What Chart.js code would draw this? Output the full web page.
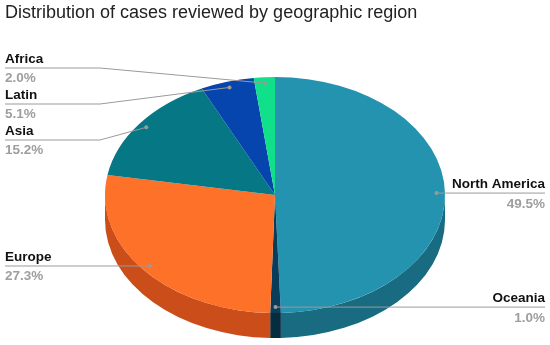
<!DOCTYPE html>
<html>
<head>
<meta charset="utf-8">
<script src="https://cdn.jsdelivr.net/npm/chart.js@4.4.1/dist/chart.umd.min.js"></script>
<style>
    html, body { margin: 0; padding: 0; background: #fff; }
    #wrap { width: 550px; height: 345px; }
</style>
</head>
<body>
<div id="wrap"><canvas id="pieChart" width="550" height="345"></canvas></div>
<script>
// Data
const regions = ['North America', 'Oceania', 'Europe', 'Asia', 'Latin', 'Africa'];
const shares = [49.5, 1.0, 27.3, 15.2, 5.1, 2.0];
const topColors = ['#2493b0', '#0a3d5a', '#fd7128', '#067784', '#0645ae', '#10e08a'];
const sideColors = ['#186b80', '#062c40', '#cb4e1a', '#045560', '#04317c', '#0ba062'];

// Layout of the 3D ellipse (screen px)
const pieCx = 275, pieCy = 195, pieRx = 170, pieRy = 118, pieDepth = 25;
// y of each label's leader line (null = follow the dot)
const labelLineY = [null, null, null, 140, 104, 68];

function pieTransform(ctx, arc) {
    const r = arc.outerRadius;
    ctx.translate(pieCx, pieCy);
    ctx.scale(pieRx / r, pieRy / r);
    ctx.translate(-arc.x, -arc.y);
}

// draws the side wall under the chart's own arcs, and squashes the top face
const tiltPlugin = {
    id: 'tilt',
    beforeDatasetsDraw(chart) {
        const ctx = chart.ctx;
        const arcs = chart.getDatasetMeta(0).data;
        if (!arcs.length) return;
        const r = arcs[0].outerRadius;
        const d = pieDepth * r / pieRy;
        ctx.save();
        pieTransform(ctx, arcs[0]);
        arcs.forEach((arc, i) => {
            // front half of the rim is angles 0..PI (canvas), repeated every 2PI
            for (let k = -1; k <= 1; k++) {
                const lo = k * Math.PI * 2, hi = lo + Math.PI;
                const s = Math.max(arc.startAngle, lo), e = Math.min(arc.endAngle, hi);
                if (e <= s) continue;
                ctx.beginPath();
                ctx.arc(arc.x, arc.y, r, s, e);
                ctx.arc(arc.x, arc.y + d, r, e, s, true);
                ctx.closePath();
                ctx.fillStyle = sideColors[i];
                ctx.fill();
            }
        });
        ctx.restore();
        ctx.save();
        pieTransform(ctx, arcs[0]);
    },
    afterDatasetsDraw(chart) {
        chart.ctx.restore();
    }
};

// leader lines + two-line labels
const labelPlugin = {
    id: 'pieLabels',
    afterDraw(chart) {
        const ctx = chart.ctx;
        const arcs = chart.getDatasetMeta(0).data;
        if (!arcs.length) return;
        const total = shares.reduce((a, b) => a + b, 0);
        ctx.save();
        arcs.forEach((arc, i) => {
            const mid = (arc.startAngle + arc.endAngle) / 2;
            const px = pieCx + Math.cos(mid) * pieRx * 0.95;
            const py = pieCy + Math.sin(mid) * pieRy * 0.95;
            const right = Math.cos(mid) > -0.01;
            const ly = labelLineY[i] === null ? py : labelLineY[i];
            const edge = right ? 545 : 5;
            const elbow = right ? 450 : 100;

            ctx.strokeStyle = '#9a9a9a';
            ctx.lineWidth = 1;
            ctx.beginPath();
            ctx.moveTo(px, py);
            if (Math.abs(ly - py) > 0.5) ctx.lineTo(elbow, ly);
            ctx.lineTo(edge, ly);
            ctx.stroke();

            ctx.fillStyle = '#9a9a9a';
            ctx.beginPath();
            ctx.arc(px, py, 2, 0, Math.PI * 2);
            ctx.fill();

            ctx.textAlign = right ? 'right' : 'left';
            ctx.font = 'bold 13.5px "Liberation Sans", Arial, sans-serif';
            ctx.fillStyle = '#111';
            ctx.textBaseline = 'alphabetic';
            ctx.fillText(regions[i], edge, ly - 5);
            ctx.fillStyle = '#9e9e9e';
            ctx.textBaseline = 'top';
            ctx.fillText((shares[i] / total * 100).toFixed(1) + '%', edge, ly + 4);
        });
        ctx.restore();
    }
};

new Chart(document.getElementById('pieChart'), {
    type: 'pie',
    data: {
        labels: regions,
        datasets: [{
            data: shares,
            backgroundColor: topColors,
            borderWidth: 0
        }]
    },
    options: {
        responsive: false,
        animation: false,
        events: [],
        layout: { padding: { left: 5, top: 2 } },
        plugins: {
            legend: { display: false },
            tooltip: { enabled: false },
            title: {
                display: true,
                text: 'Distribution of cases reviewed by geographic region',
                align: 'start',
                color: '#222',
                font: { family: '"Liberation Sans", Arial, sans-serif', size: 18, weight: 'normal' },
                padding: { top: 0, bottom: 6 }
            }
        }
    },
    plugins: [tiltPlugin, labelPlugin]
});
</script>
</body>
</html>
